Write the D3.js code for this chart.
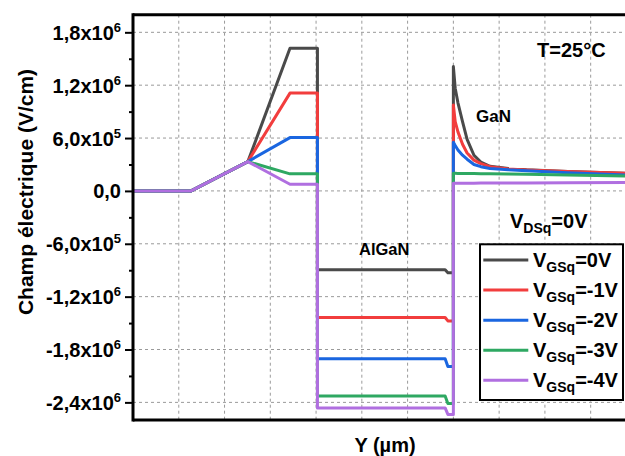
<!DOCTYPE html>
<html>
<head>
<meta charset="utf-8">
<script src="https://cdn.jsdelivr.net/npm/d3@7"></script>
<style>
  html, body { margin: 0; padding: 0; background: #fff; }
  svg { display: block; }
  text { font-family: "Liberation Sans", Arial, sans-serif; font-weight: bold; fill: #000; }
</style>
</head>
<body>
<svg id="chart" width="625" height="456"></svg>
<script>
// ---------------- DATA ----------------
const seriesLabels = ["=0V", "=-1V", "=-2V", "=-3V", "=-4V"];
const seriesColors = ["#4a4a4a", "#f23d3d", "#1a66e0", "#2ea862", "#b06fe0"];

// Buffer / gate region (shared by all series)
const xBuffer = [0, 1.27, 2.51];
const yBuffer = [0, 0, 3.33e5];
// Plateau under the gate
const xPlateau = [3.43, 4.03];
const plateauValues = [1.62e6, 1.11e6, 6.05e5, 1.94e5, 7.6e4];
// AlGaN barrier
const xAlGaN = [4.03, 6.82, 6.88, 7.0];
const alganValues = [-8.95e5, -1.436e6, -1.905e6, -2.327e6, -2.463e6];
const alganEndValues = [-9.3e5, -1.475e6, -1.992e6, -2.412e6, -2.537e6];
// GaN channel tail
const xGaN = [7.0, 7.04, 7.1, 7.2, 7.3, 7.45, 7.6, 7.8, 8.2, 8.6, 9.5, 10.75];
const ganVgs0 = [1.411e6, 1.166e6, 1.0e6, 7.87e5, 5.85e5, 4.05e5, 3.28e5, 2.8e5, 2.55e5, 2.4e5, 2.2e5, 2.0e5];
const ganVgs1 = [9.76e5, 7.87e5, 6.7e5, 5.3e5, 4.3e5, 3.5e5, 3.1e5, 2.75e5, 2.5e5, 2.38e5, 2.2e5, 2.0e5];
const ganVgs2 = [5.53e5, 5.15e5, 4.65e5, 4.05e5, 3.6e5, 3.0e5, 2.75e5, 2.55e5, 2.4e5, 2.3e5, 2.05e5, 1.82e5];
const ganVgs3 = [2.0e5, 2.0e5, 1.99e5, 1.99e5, 1.98e5, 1.97e5, 1.96e5, 1.95e5, 1.93e5, 1.9e5, 1.8e5, 1.68e5];
const ganVgs4 = [8.7e4, 8.7e4, 8.7e4, 8.8e4, 8.8e4, 8.8e4, 8.9e4, 8.9e4, 9.0e4, 9.1e4, 9.3e4, 9.5e4];
const ganValues = [ganVgs0, ganVgs1, ganVgs2, ganVgs3, ganVgs4];

// Axis ticks
const xGridValues = [1, 2, 3, 4, 5, 6, 7, 8, 9, 10];
const yTickValues = [1.8e6, 1.2e6, 6e5, 0, -6e5, -1.2e6, -1.8e6, -2.4e6];
const yMinorValues = [1.5e6, 9e5, 3e5, -3e5, -9e5, -1.5e6, -2.1e6];
const yTickMantissa = ["1,8x10", "1,2x10", "6,0x10", "0,0", "-6,0x10", "-1,2x10", "-1,8x10", "-2,4x10"];
const yTickExponent = ["6", "6", "5", "", "5", "6", "6", "6"];

// ---------------- LAYOUT ----------------
const svg = d3.select("#chart");
const L = 133, T = 14.7, R = 625, B = 420;
const x = d3.scaleLinear().domain([0, 10.75]).range([L, R]);
const y = d3.scaleLinear().domain([-2.6e6, 2.0e6]).range([B, T]);

// Grid
const grid = svg.append("g").attr("stroke", "#9a9a9a").attr("stroke-width", 1).attr("stroke-dasharray", "3,3");
grid.selectAll("line.v").data(xGridValues).join("line")
  .attr("x1", d => x(d)).attr("x2", d => x(d)).attr("y1", T).attr("y2", B);
grid.selectAll("line.h").data(yTickValues).join("line")
  .attr("x1", L).attr("x2", R).attr("y1", d => y(d)).attr("y2", d => y(d));

// Series
const line = d3.line().x(d => x(d[0])).y(d => y(d[1])).curve(d3.curveLinear);
const seriesData = seriesLabels.map((lab, i) => {
  const pts = [];
  xBuffer.forEach((xv, k) => pts.push([xv, yBuffer[k]]));
  xPlateau.forEach(xv => pts.push([xv, plateauValues[i]]));
  pts.push([xAlGaN[0], alganValues[i]]);
  pts.push([xAlGaN[1], alganValues[i]]);
  pts.push([xAlGaN[2], alganEndValues[i]]);
  pts.push([xAlGaN[3], alganEndValues[i]]);
  xGaN.forEach((xv, k) => pts.push([xv, ganValues[i][k]]));
  return pts;
});
svg.append("g").selectAll("path").data(seriesData).join("path")
  .attr("d", line)
  .attr("fill", "none")
  .attr("stroke", (d, i) => seriesColors[i])
  .attr("stroke-width", 3)
  .attr("stroke-linejoin", "round");

// Axes
const yAxis = d3.axisLeft(y).tickValues(yTickValues).tickSize(8).tickFormat("");
const gy = svg.append("g").attr("transform", `translate(${L},0)`).call(yAxis);
gy.select(".domain").remove();
gy.selectAll(".tick line").attr("stroke", "#000").attr("stroke-width", 2);
const yMinor = d3.axisLeft(y).tickValues(yMinorValues).tickSize(4).tickFormat("");
const gym = svg.append("g").attr("transform", `translate(${L},0)`).call(yMinor);
gym.select(".domain").remove();
gym.selectAll(".tick line").attr("stroke", "#000").attr("stroke-width", 2);

// Frame lines
svg.append("line").attr("x1", L).attr("x2", L).attr("y1", T - 1.5).attr("y2", B + 1.5).attr("stroke", "#000").attr("stroke-width", 3);
svg.append("line").attr("x1", L).attr("x2", R).attr("y1", B).attr("y2", B).attr("stroke", "#000").attr("stroke-width", 3);
svg.append("line").attr("x1", L).attr("x2", R).attr("y1", T).attr("y2", T).attr("stroke", "#000").attr("stroke-width", 3);

// Y tick labels
const lbl = svg.append("g").selectAll("text").data(yTickValues).join("text")
  .attr("x", 121).attr("y", d => y(d) + 7.5)
  .attr("text-anchor", "end").style("font-size", "20px");
lbl.each(function(d, i) {
  const t = d3.select(this);
  t.append("tspan").text(yTickMantissa[i]);
  if (yTickExponent[i]) t.append("tspan").attr("dy", -8).style("font-size", "13px").text(yTickExponent[i]);
});

// Axis titles
svg.append("text").attr("transform", "translate(33,192) rotate(-90)")
  .attr("text-anchor", "middle").style("font-size", "21px").text("Champ électrique (V/cm)");
svg.append("text").attr("x", 385).attr("y", 452).attr("text-anchor", "middle")
  .style("font-size", "20px").text("Y (µm)");

// Annotations
svg.append("text").attr("x", 537).attr("y", 57).style("font-size", "20px").text("T=25°C");
svg.append("text").attr("x", 476).attr("y", 121.5).style("font-size", "17px").text("GaN");
svg.append("text").attr("x", 359).attr("y", 255).style("font-size", "16.5px").text("AlGaN");
const vds = svg.append("text").attr("x", 510).attr("y", 227.5).style("font-size", "20px");
vds.append("tspan").text("V");
vds.append("tspan").attr("dy", 5).style("font-size", "14px").text("DSq");
vds.append("tspan").attr("dy", -5).text("=0V");

// Legend
const lg = svg.append("g");
lg.append("rect").attr("x", 480).attr("y", 244.3).attr("width", 143).attr("height", 155.7)
  .attr("fill", "#fff").attr("stroke", "#000").attr("stroke-width", 2);
const legendY = d3.scaleLinear().domain([0, 4]).range([260, 380.3]);
seriesLabels.forEach((lab, i) => {
  const yy = legendY(i);
  lg.append("line").attr("x1", 483.3).attr("x2", 528.3).attr("y1", yy).attr("y2", yy)
    .attr("stroke", seriesColors[i]).attr("stroke-width", 3);
  const t = lg.append("text").attr("x", 533).attr("y", yy + 7).style("font-size", "20px");
  t.append("tspan").text("V");
  t.append("tspan").attr("dy", 5).style("font-size", "14px").text("GSq");
  t.append("tspan").attr("dy", -5).text(lab);
});
</script>
</body>
</html>
